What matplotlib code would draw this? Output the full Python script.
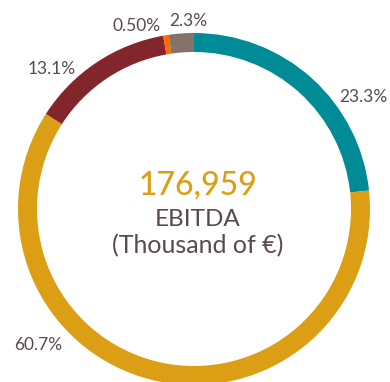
import matplotlib
matplotlib.use("Agg")
import matplotlib.pyplot as plt

# EBITDA breakdown, share of total (%)
shares = [23.3, 60.7, 13.1, 0.50, 2.3]
share_labels = ["23.3%", "60.7%", "13.1%", "0.50%", "2.3%"]
colors = ["#008b96", "#dc9e14", "#82262b", "#ff6a00", "#85736a"]
# label positions in pixel coords (x, y from top)
label_pos = [(363, 97), (38, 345), (52, 69), (137, 26), (188, 21)]

total_value = "176,959"
center_title = "EBITDA"
center_unit = "(Thousand of \u20ac)"

W, H = 390, 382
text_color = "#5a4a4a"

fig = plt.figure(figsize=(W / 100, H / 100), dpi=100)
ax = fig.add_axes([0, 0, 1, 1])

cx, cy, r = 194, H - 209, 176
ax.pie(shares, colors=colors, startangle=90, counterclock=False,
       radius=r, center=(cx, cy), frame=True,
       wedgeprops=dict(width=19, linewidth=0))
ax.set_xlim(0, W)
ax.set_ylim(0, H)
ax.axis("off")

for lab, (x, y) in zip(share_labels, label_pos):
    ax.text(x, H - y, lab, ha="center", va="center", fontsize=12.5,
            family="Lato", color=text_color)

ax.text(cx + 4, H - 185, total_value, ha="center", va="center", fontsize=23,
        family="Lato", weight="medium", color="#dc9e14")
ax.text(cx + 4, H - 220, center_title, ha="center", va="center", fontsize=17.5,
        family="Lato", color=text_color)
ax.text(cx + 4, H - 246, center_unit, ha="center", va="center", fontsize=18,
        family="Lato", color=text_color)

fig.savefig("out.png", dpi=100)
